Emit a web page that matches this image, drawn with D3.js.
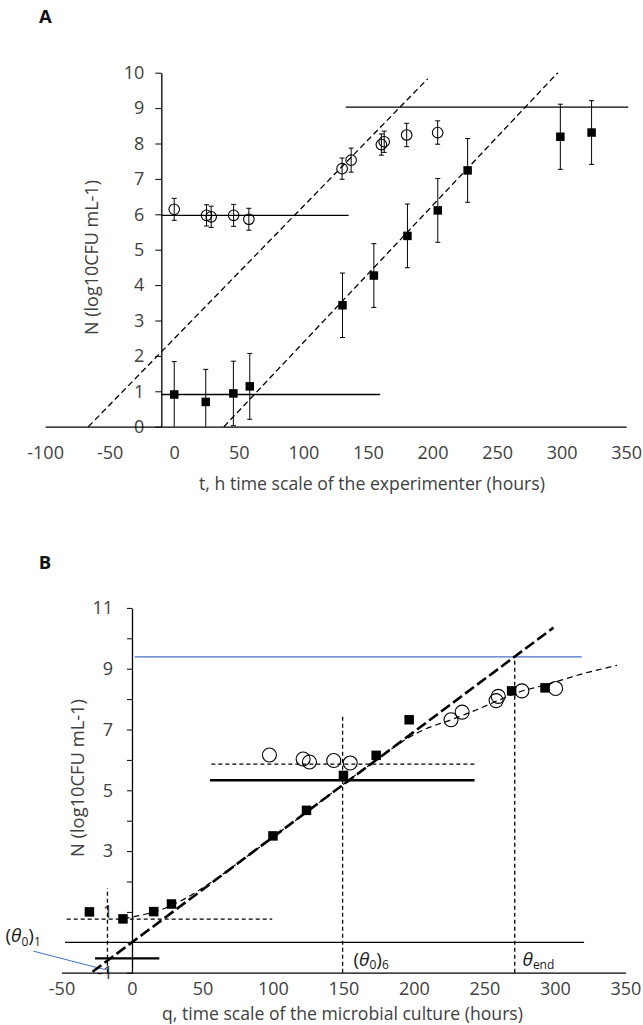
<!DOCTYPE html>
<html>
<head>
<meta charset="utf-8">
<script src="https://cdn.jsdelivr.net/npm/d3@7"></script>
<style>
  html, body { margin: 0; padding: 0; background: #fff; }
  svg { display: block; }
  text { font-family: "Open Sans", sans-serif; }
</style>
</head>
<body>
<svg id="chart" width="643" height="1025"></svg>
<script>
// ---------- Panel A: experimenter time scale t (h) ----------
const xTicksA = [-100, -50, 0, 50, 100, 150, 200, 250, 300, 350];
const yTicksA = [0, 1, 2, 3, 4, 5, 6, 7, 8, 9, 10];

// open circles: inoculum of ~10^6 CFU/mL
const tOpenA   = [0, 25, 28.6, 46, 57.8, 130, 137, 160.4, 162.6, 180, 204];
const nOpenA   = [6.14, 5.97, 5.93, 5.97, 5.86, 7.29, 7.53, 7.97, 8.05, 8.24, 8.31];
const errOpenA = [0.31, 0.30, 0.30, 0.31, 0.31, 0.30, 0.34, 0.30, 0.30, 0.33, 0.33];

// filled squares: inoculum of ~10 CFU/mL
const tFillA   = [0, 24.4, 45.8, 58.5, 130.3, 154.6, 180.6, 204.1, 227.2, 299, 323.2];
const nFillA   = [0.91, 0.70, 0.94, 1.14, 3.43, 4.27, 5.39, 6.11, 7.24, 8.19, 8.31];
const errFillA = [0.93, 0.92, 0.91, 0.93, 0.91, 0.90, 0.90, 0.90, 0.90, 0.92, 0.90];

// lag levels, growth lines and stationary level
const linesA = [
  { x: [-10, 135],     y: [5.97, 5.97], dash: null },
  { x: [-10, 159.5],   y: [0.91, 0.91], dash: null },
  { x: [132.8, 351.6], y: [9.03, 9.03], dash: null },
  { x: [-66.5, 196.3], y: [0, 9.83],    dash: "6,3.5" },
  { x: [38.5, 297],    y: [0, 10.0],    dash: "6,3.5" }
];

// ---------- Panel B: microbial culture time scale q (h) ----------
const xTicksB = [-50, 0, 50, 100, 150, 200, 250, 300, 350];
const yTicksB = [-1, 0, 1, 2, 3, 4, 5, 6, 7, 8, 9, 10, 11];
const yLabelsB = [-1, 1, 3, 5, 7, 9, 11];

const qOpenB = [97.5, 121.4, 125.9, 143.1, 154.8, 226.3, 234.2, 258.3, 259.8, 276.6, 300.5];
const nOpenB = [6.16, 6.03, 5.93, 5.98, 5.90, 7.32, 7.57, 7.95, 8.09, 8.27, 8.35];

const qFillB = [-30.2, -6.4, 15.4, 28.0, 100.0, 123.8, 150.0, 173.2, 196.6, 269.3, 293.0];
const nFillB = [1.00, 0.77, 1.01, 1.26, 3.50, 4.34, 5.49, 6.15, 7.32, 8.27, 8.37];

// growth model curve drawn through both data sets
const qFitB = [-6, 0, 10, 20, 30, 40, 60, 80, 100, 120, 140, 160, 175, 190, 205, 227, 245, 260, 275, 290, 305, 320, 335, 344];
const nFitB = [0.78, 0.83, 0.93, 1.06, 1.26, 1.50, 2.10, 2.77, 3.46, 4.15, 4.85, 5.55, 6.05, 6.55, 6.95, 7.33, 7.66, 7.96, 8.24, 8.43, 8.63, 8.84, 9.01, 9.11];

// exponential growth line through the origin
const growthLineB = { x: [-28, 299], y: [-0.97, 10.35] };

const linesB = [
  { x: [2, 319],        y: [9.39, 9.39],  dash: null,  w: 1.2, c: "#4472C4" },
  { x: [-47.5, 320.7],  y: [0, 0],        dash: null,  w: 1.2, c: "#000" },
  { x: [56.3, 244.8],   y: [5.86, 5.86],  dash: "4,3", w: 1.3, c: "#000" },
  { x: [55.3, 243.0],   y: [5.33, 5.33],  dash: null,  w: 2.3, c: "#000" },
  { x: [-46.3, 99.5],   y: [0.76, 0.76],  dash: "4,3", w: 1.3, c: "#000" },
  { x: [-26.2, 19.4],   y: [-0.53, -0.53],dash: null,  w: 2.3, c: "#000" },
  { x: [-17.4, -17.4],  y: [-1, 1.78],    dash: "4,3", w: 1.3, c: "#000" },
  { x: [149.4, 149.4],  y: [-1, 7.49],    dash: "4,3", w: 1.3, c: "#000" },
  { x: [271.5, 271.5],  y: [-1, 9.39],    dash: "4,3", w: 1.3, c: "#000" },
  { x: [-70, -19.1],    y: [-0.29, -0.90],dash: null,  w: 1.0, c: "#4472C4" }
];

// ---------- drawing ----------
const svg = d3.select("#chart");
svg.append("rect").attr("width", 643).attr("height", 1025).attr("fill", "#fff");

const labelColor = "#404040";
const plain = d => String(d);   // hyphen-minus, as in the axis labels

function fitWidth(sel, target) {
  const w = sel.node().getComputedTextLength();
  const fs = parseFloat(sel.attr("font-size"));
  sel.attr("font-size", (fs * target / w).toFixed(2));
}

function segment(g, x, y, s, opts) {
  g.append("line")
    .attr("x1", x(s.x[0])).attr("y1", y(s.y[0]))
    .attr("x2", x(s.x[1])).attr("y2", y(s.y[1]))
    .attr("stroke", opts.c || "#000")
    .attr("stroke-width", opts.w || 1.3)
    .attr("stroke-dasharray", s.dash || null);
}

function styleAxis(ax) {
  ax.select(".domain").attr("stroke", "#000").attr("stroke-width", 1.3);
  ax.selectAll(".tick line").attr("stroke", "#000");
  ax.selectAll(".tick text").attr("font-size", 18).attr("fill", labelColor)
    .style("font-family", "'Open Sans', sans-serif");
}

// ---- Panel A ----
{
  const x = d3.scaleLinear().domain([-100, 350]).range([45.1, 626.2]);
  const y = d3.scaleLinear().domain([0, 10]).range([426.7, 72.7]);
  const g = svg.append("g");

  g.append("text").attr("x", 45.5).attr("y", 22.7).attr("text-anchor", "middle")
    .attr("font-size", 18.5).attr("font-weight", 700).attr("fill", "#111").text("A");

  // y axis crosses at t = -10
  styleAxis(g.append("g").attr("transform", `translate(${x(-10)},0)`)
    .call(d3.axisLeft(y).tickValues(yTicksA).tickFormat(plain)
      .tickSize(6).tickSizeOuter(0).tickPadding(11)));

  styleAxis(g.append("g").attr("transform", `translate(0,${y(0)})`)
    .call(d3.axisBottom(x).tickValues(xTicksA).tickFormat(plain)
      .tickSize(0).tickSizeOuter(0).tickPadding(20)));

  linesA.forEach(s => segment(g, x, y, s, { w: 1.3 }));

  // error bars
  function errBars(ts, ns, es) {
    ts.forEach((t, i) => {
      const lo = Math.max(0, ns[i] - es[i]), hi = ns[i] + es[i];
      const cx = x(t);
      g.append("line").attr("x1", cx).attr("x2", cx).attr("y1", y(lo)).attr("y2", y(hi))
        .attr("stroke", "#000").attr("stroke-width", 1);
      [lo, hi].forEach(v => {
        if (v <= 0) return;
        g.append("line").attr("x1", cx - 2.5).attr("x2", cx + 2.5).attr("y1", y(v)).attr("y2", y(v))
          .attr("stroke", "#000").attr("stroke-width", 1);
      });
    });
  }
  errBars(tOpenA, nOpenA, errOpenA);
  errBars(tFillA, nFillA, errFillA);

  g.selectAll("circle.open").data(tOpenA).join("circle")
    .attr("cx", d => x(d)).attr("cy", (d, i) => y(nOpenA[i])).attr("r", 5.3)
    .attr("fill", "none").attr("stroke", "#000").attr("stroke-width", 1.1);

  const sq = 8.5;
  g.selectAll("rect.fill").data(tFillA).join("rect")
    .attr("x", d => x(d) - sq / 2).attr("y", (d, i) => y(nFillA[i]) - sq / 2)
    .attr("width", sq).attr("height", sq).attr("fill", "#000");

  const yt = g.append("text").attr("transform", "translate(97.5,257.5) rotate(-90)")
    .attr("text-anchor", "middle").attr("font-size", 18).attr("fill", labelColor)
    .text("N (log10CFU mL-1)");
  fitWidth(yt, 155);

  const xt = g.append("text").attr("x", 372).attr("y", 490).attr("text-anchor", "middle")
    .attr("font-size", 18).attr("fill", labelColor)
    .text("t, h time scale of the experimenter (hours)");
  fitWidth(xt, 346);
}

// ---- Panel B ----
{
  const x = d3.scaleLinear().domain([-50, 350]).range([61.5, 625.4]);
  const y = d3.scaleLinear().domain([-1, 11]).range([972.7, 607.9]);
  const g = svg.append("g");

  g.append("text").attr("x", 45).attr("y", 568.6).attr("text-anchor", "middle")
    .attr("font-size", 18.5).attr("font-weight", 700).attr("fill", "#111").text("B");

  styleAxis(g.append("g").attr("transform", `translate(${x(0)},0)`)
    .call(d3.axisLeft(y).tickValues(yTicksB).tickSize(5).tickSizeOuter(0).tickPadding(14)
      .tickFormat(d => yLabelsB.includes(d) ? String(d) : "")));

  styleAxis(g.append("g").attr("transform", `translate(0,${y(-1)})`)
    .call(d3.axisBottom(x).tickValues(xTicksB).tickFormat(plain)
      .tickSize(0).tickSizeOuter(0).tickPadding(10)));

  linesB.forEach(s => segment(g, x, y, s, { w: s.w, c: s.c }));

  // model curve (thin dashes)
  g.append("path")
    .attr("d", d3.line().curve(d3.curveMonotoneX).x(d => x(d)).y((d, i) => y(nFitB[i]))(qFitB))
    .attr("fill", "none").attr("stroke", "#000").attr("stroke-width", 1.2)
    .attr("stroke-dasharray", "6,4");

  // exponential phase (long dashes)
  segment(g, x, y, { x: growthLineB.x, y: growthLineB.y, dash: "11,4" }, { w: 2.6 });

  g.selectAll("circle.open").data(qOpenB).join("circle")
    .attr("cx", d => x(d)).attr("cy", (d, i) => y(nOpenB[i])).attr("r", 7)
    .attr("fill", "none").attr("stroke", "#000").attr("stroke-width", 1.1);

  const sq = 9.5;
  g.selectAll("rect.fill").data(qFillB).join("rect")
    .attr("x", d => x(d) - sq / 2).attr("y", (d, i) => y(nFillB[i]) - sq / 2)
    .attr("width", sq).attr("height", sq).attr("fill", "#000");

  // annotations
  function thetaLabel(px, py, sub1, sub2) {
    const t = g.append("text").attr("x", px).attr("y", py).attr("font-size", 19).attr("fill", "#1a1a1a");
    if (sub2 !== undefined) t.append("tspan").text("(");
    t.append("tspan").attr("font-style", "italic").text("θ");
    t.append("tspan").attr("font-size", 12).attr("dy", 3.5).text(sub1);
    if (sub2 !== undefined) {
      t.append("tspan").attr("dy", -3.5).text(")");
      t.append("tspan").attr("font-size", 12).attr("dy", 3.5).text(sub2);
    }
  }
  thetaLabel(5.5, 942, "0", "1");
  thetaLabel(353.5, 965.5, "0", "6");
  thetaLabel(522.5, 965.5, "end");

  const yt = g.append("text").attr("transform", "translate(83.5,778) rotate(-90)")
    .attr("text-anchor", "middle").attr("font-size", 18).attr("fill", labelColor)
    .text("N (log10CFU mL-1)");
  fitWidth(yt, 158);

  const xt = g.append("text").attr("x", 342.5).attr("y", 1019.5).attr("text-anchor", "middle")
    .attr("font-size", 18).attr("fill", labelColor)
    .text("q, time scale of the microbial culture (hours)");
  fitWidth(xt, 361);
}
</script>
</body>
</html>
